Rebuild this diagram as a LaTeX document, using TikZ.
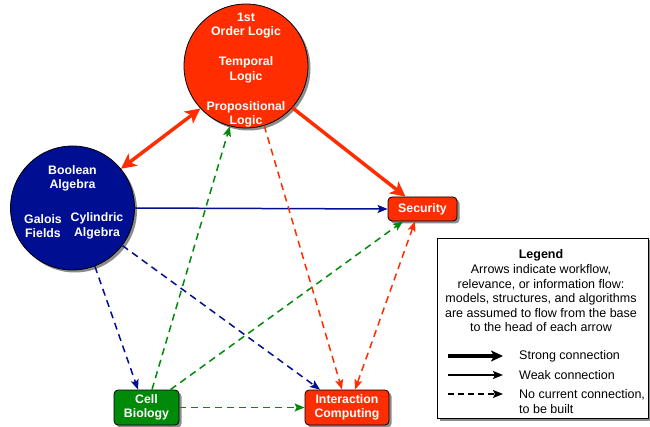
\documentclass[tikz,border=0pt]{standalone}
\usepackage{fontspec}
\setmainfont{Liberation Sans}
\usetikzlibrary{arrows.meta,shadows}
\definecolor{cred}{RGB}{255,45,0}
\definecolor{cblue}{RGB}{0,15,145}
\definecolor{cgreen}{RGB}{0,138,10}
\begin{document}
\begin{tikzpicture}[x=1pt,y=-1pt,
  Thk/.tip={Stealth[length=15pt,width=15pt,inset=4pt]},
  Thn/.tip={Stealth[length=10pt,width=8pt,inset=2pt]},
  Lgk/.tip={Stealth[length=12pt,width=11pt,inset=3pt]},
  shd/.style={drop shadow={shadow xshift=2.5pt,shadow yshift=-2.5pt,opacity=0.45,fill=black}},
  bigcirc/.style={circle,draw=black,line width=0.8pt,minimum size=124pt,inner sep=0pt,shd},
  ctext/.style={text=white,font=\bfseries\fontsize{12.3}{14.5}\selectfont,align=center,inner sep=0pt},
  box/.style={rectangle,rounded corners=4pt,draw=black,line width=0.8pt,shd,text=white,font=\bfseries\fontsize{12.3}{14.5}\selectfont,align=center,inner sep=0pt},
  strong/.style={line width=3.5pt,-Thk},
  strongboth/.style={line width=3.5pt,Thk-Thk},
  weak/.style={line width=1.5pt,-Thn},
  nocon/.style={line width=1.5pt,-Thn,dash pattern=on 7pt off 5pt},
  noconboth/.style={line width=1.5pt,Thn-Thn,dash pattern=on 7pt off 5pt},
  legtext/.style={font=\fontsize{12.5}{14.6}\selectfont,inner sep=0pt},
]
\useasboundingbox (0,0) rectangle (650,427);

% main nodes
\node[bigcirc,fill=cred] (logic) at (246,66) {};
\node[bigcirc,fill=cblue] (alg) at (72.5,208) {};
\node[box,fill=cred,minimum width=69pt,minimum height=24pt] (sec) at (422.5,209) {Security};
\node[box,fill=cgreen,minimum width=65pt,minimum height=35pt] (cell) at (146.5,407.5) {Cell\\Biology};
\node[box,fill=cred,minimum width=84pt,minimum height=35pt] (inter) at (347,407.5) {Interaction\\Computing};

% circle texts
\node[ctext] (fol) at (246,25.5) {1st\\Order Logic};
\node[ctext] (tl) at (246,70) {Temporal\\Logic};
\node[ctext] (pl) at (246,114.5) {Propositional\\Logic};
\node[ctext] (ba) at (72.5,178.5) {Boolean\\Algebra};
\node[ctext] (gf) at (43,226) {Galois\\Fields};
\node[ctext] (ca) at (97,226) {Cylindric\\Algebra};

% connectors
\draw[strongboth,cred] (alg.39) -- (logic.223);
\draw[strong,cred] (logic.-42) -- ([xshift=-17pt]sec.north);
\draw[weak,cblue] (alg.east) -- (sec.west);
\draw[nocon,cblue] (alg.-69) -- ([xshift=-8.5pt]cell.north);
\draw[nocon,cblue] (alg.-37) -- ([xshift=-27pt]inter.north);
\draw[nocon,cgreen] ([xshift=5.5pt]cell.north) -- (logic.255);
\draw[nocon,cgreen] ([xshift=24pt]cell.north) -- ([xshift=-19.5pt]sec.south);
\draw[nocon,cgreen] (cell.east) -- (inter.west);
\draw[nocon,cred] (logic.-73) -- ([xshift=-5pt]inter.north);
\draw[noconboth,cred] ([xshift=-7.5pt]sec.south) -- ([xshift=8pt]inter.north);

% legend
\node[draw=black,line width=0.8pt,fill=white,minimum width=211pt,minimum height=180pt,inner sep=0pt,shd] (leg) at (542.5,328) {};
\node[legtext,align=center] (legtxt) at (541,291) {\textbf{Legend}\\Arrows indicate workflow,\\relevance, or information flow:\\models, structures, and algorithms\\are assumed to flow from the base\\to the head of each arrow};
\coordinate (l1a) at (448,356); \coordinate (l1b) at (503,356);
\coordinate (l2a) at (448,375); \coordinate (l2b) at (503,375);
\coordinate (l3a) at (448,394); \coordinate (l3b) at (503,394);
\draw[line width=3.5pt,-Lgk] (l1a) -- (l1b);
\draw[line width=1.5pt,-Thn] (l2a) -- (l2b);
\draw[line width=1.5pt,-Thn,dash pattern=on 6pt off 4pt] (l3a) -- (l3b);
\node[legtext,anchor=west] (lt1) at (519,356) {Strong connection};
\node[legtext,anchor=west] (lt2) at (519,375) {Weak connection};
\node[legtext,anchor=west,align=left] (lt3) at (519,401.5) {No current connection,\\to be built};
\end{tikzpicture}
\end{document}
